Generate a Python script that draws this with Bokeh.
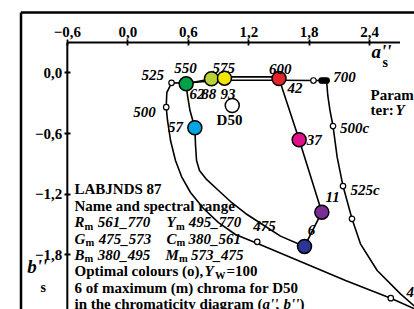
from bokeh.plotting import figure
from bokeh.models import Range1d, LinearAxis, FixedTicker, CustomJSTickFormatter
from bokeh.core.properties import value
from bokeh.embed import file_html
from bokeh.resources import INLINE

FONT = value("Liberation Serif")

# ---------------- data ----------------
a_ticks = [-0.6, 0.0, 0.6, 1.2, 1.8, 2.4]
b_ticks = [0.0, -0.6, -1.2, -1.8]

# optimal colour boundary (outer curve), (a''s, b''s)
opt_a = [2.904, 2.609, 2.160, 1.712, 1.287, 1.068, 0.900, 0.751, 0.622, 0.533, 0.473,
         0.424, 0.394, 0.381, 0.387, 0.434, 0.579, 0.830, 0.959, 1.500, 1.842, 1.972,
         1.984, 2.006, 2.036, 2.077, 2.135, 2.224, 2.308, 2.474, 2.705, 2.904]
opt_b = [-2.359, -2.227, -2.052, -1.864, -1.687, -1.598, -1.480, -1.341, -1.183, -1.025, -0.866,
         -0.669, -0.471, -0.340, -0.195, -0.099, -0.101, -0.081, -0.074, -0.074, -0.076, -0.076,
         -0.224, -0.373, -0.526, -0.834, -1.119, -1.443, -1.690, -1.954, -2.184, -2.359]

# spectral marks on the optimal colour boundary
spec_a = [0.434, 0.381, 1.284, 2.609, 1.842, 1.923, 1.947, 1.972, 2.036, 2.135, 2.224]
spec_b = [-0.099, -0.340, -1.670, -2.227, -0.076, -0.076, -0.076, -0.076, -0.526, -1.119, -1.443]
spec_lab = ["525", "500", "475", "450", "", "", "", "700", "500c", "525c", ""]
spec_fill = ["white", "white", "white", "white", "white", "black", "black", "black",
             "white", "white", "white"]
spec_dx = [-18.7, -21.7, 7.3, 27, 0, 0, 0, 18, 21.5, 22, 0]
spec_dy = [-8.3, 4.3, -15.3, -6, 0, 0, 0, -3, 2, 3.5, 0]

# maximum chroma colours (m)
mc_curve_a = [0.579, 0.592, 0.617, 0.665, 0.672, 0.682, 0.711, 0.781, 0.900, 1.019, 1.168,
              1.336, 1.515, 1.753, 1.925, 1.700, 1.500, 1.500, 0.959, 0.830, 0.579]
mc_curve_b = [-0.109, -0.224, -0.373, -0.543, -0.718, -0.867, -0.965, -1.054, -1.163, -1.272,
              -1.390, -1.499, -1.614, -1.716, -1.377, -0.662, -0.056, -0.040, -0.040, -0.059,
              -0.109]
mc_a = [0.579, 0.830, 0.959, 1.500, 1.700, 1.925, 1.753, 0.665]
mc_b = [-0.109, -0.059, -0.053, -0.056, -0.662, -1.377, -1.716, -0.543]
mc_Y = ["62", "88", "93", "42", "37", "11", "6", "57"]
mc_color = ["#00a04b", "#b8d335", "#f3e500", "#e4232b", "#e0118b", "#7b2d96", "#2b3594", "#00a6e4"]
mc_Ydx = [10.8, -2.7, 3.5, 16, 15, 10.7, 7, -19.3]
mc_Ydy = [10, 15, 15.6, 10, 0.7, -15, -16, -0.6]
mc_wave = ["550", "", "575", "600", "", "", "", ""]
mc_wdx = [-0.7, 0, -0.7, 1.2, 0, 0, 0, 0]
mc_wdy = [-16, 0, -10.4, -9.7, 0, 0, 0, 0]

d50_a = [1.036]
d50_b = [-0.323]

# ---------------- figure ----------------
A0, A1 = -1.2629, 2.8442
B0, B1 = -2.3390, 0.7144
AX_A0, AX_A1, AX_B = -0.6, 2.7, 0.3
FR_A, FR_B = -1.0595, 0.596

p = figure(width=414, height=309, x_range=Range1d(A0, A1), y_range=Range1d(B0, B1),
           output_backend="svg", toolbar_location=None, x_axis_location=None,
           y_axis_location=None, min_border=0, title=None)
p.outline_line_color = None
p.grid.grid_line_color = None
p.background_fill_color = "white"
p.border_fill_color = "white"

fmt = CustomJSTickFormatter(code="return (tick < -1e-9 ? '\u2212' : '') + Math.abs(tick).toFixed(1).replace('.', ',');")

def style_axis(ax):
    ax.axis_line_color = None
    ax.major_tick_in = 3
    ax.major_tick_out = 3
    ax.major_tick_line_width = 1.8
    ax.major_tick_line_color = "black"
    ax.minor_tick_line_color = None
    ax.major_label_text_font = "Liberation Serif"
    ax.major_label_text_font_style = "bold"
    ax.major_label_text_font_size = "15px"
    ax.major_label_text_color = "black"
    ax.major_label_standoff = 2

xax = LinearAxis(fixed_location=AX_B, ticker=FixedTicker(ticks=a_ticks), formatter=fmt)
style_axis(xax)
p.add_layout(xax, "above")
yax = LinearAxis(fixed_location=AX_A0, ticker=FixedTicker(ticks=b_ticks), formatter=fmt)
style_axis(yax)
p.add_layout(yax, "left")

# frame and axis lines
p.segment(x0=[FR_A, FR_A], y0=[FR_B, FR_B], x1=[A1 + 1, FR_A], y1=[FR_B, B0 - 1],
          line_color="black", line_width=2.5)
p.segment(x0=[AX_A0, AX_A0], y0=[AX_B, AX_B], x1=[AX_A1, AX_A0], y1=[AX_B, B0 - 1],
          line_color="black", line_width=2)

# curves
p.line(opt_a, opt_b, line_color="black", line_width=1.6)
p.line(mc_curve_a, mc_curve_b, line_color="black", line_width=1.6)

# markers
p.scatter(spec_a, spec_b, size=5.5, fill_color=spec_fill, line_color="black", line_width=1.2)
p.scatter(mc_a, mc_b, size=14, fill_color=mc_color, line_color="black", line_width=1.5)
p.scatter(d50_a, d50_b, size=14, fill_color="white", line_color="black", line_width=1.5)

def txt(x, y, t, dx=0, dy=0, style="bold italic", size="15px", align="center"):
    n = len(t)
    p.text(x=x, y=y, text=t, x_offset=dx if isinstance(dx, list) else [dx] * n,
           y_offset=dy if isinstance(dy, list) else [dy] * n,
           text_font=FONT, text_font_style=style, text_font_size=size,
           text_align=align, text_baseline="middle", text_color="black")

txt(spec_a, spec_b, spec_lab, spec_dx, spec_dy)
txt(mc_a, mc_b, mc_Y, mc_Ydx, mc_Ydy)
txt(mc_a, mc_b, mc_wave, mc_wdx, mc_wdy)
txt(d50_a, d50_b, ["D50"], [-2.7], [15], style="bold")

# axis titles
txt([2.418], [0.210], ["a''"], style="bold italic", size="19px", align="left")
txt([2.527], [0.097], ["s"], style="bold", size="14px", align="left")
txt([-0.998], [-1.914], ["b''"], style="bold italic", size="19px", align="left")
txt([-0.866], [-2.124], ["s"], style="bold", size="14px", align="left")

# parameter note
txt([2.408], [-0.224], ["Parame-"], style="bold", align="left")
txt([2.408], [-0.363], ["ter: "], style="bold", align="left")
txt([2.408], [-0.363], ["Y"], dx=[25], style="bold italic", align="left")

# legend block
leg_a = -0.529
row_b = [-1.8 + (4 - i) * 0.162 for i in range(8)]
pieces = [
    (0, 0, "LABJNDS 87", "bold", "15px", 0),
    (1, 0, "Name and spectral range", "bold", "15px", 0),
    (2, 0, "R", "bold italic", "15px", 0), (2, 10, "m", "bold", "10.5px", 4),
    (2, 23.3, "561_770", "bold italic", "15px", 0),
    (2, 92, "Y", "bold italic", "15px", 0), (2, 101.5, "m", "bold", "10.5px", 4),
    (2, 114.3, "495_770", "bold italic", "15px", 0),
    (3, 0, "G", "bold italic", "15px", 0), (3, 11, "m", "bold", "10.5px", 4),
    (3, 24.3, "475_573", "bold italic", "15px", 0),
    (3, 92, "C", "bold italic", "15px", 0), (3, 102, "m", "bold", "10.5px", 4),
    (3, 114, "380_561", "bold italic", "15px", 0),
    (4, 0, "B", "bold italic", "15px", 0), (4, 10, "m", "bold", "10.5px", 4),
    (4, 23.3, "380_495", "bold italic", "15px", 0),
    (4, 91, "M", "bold italic", "15px", 0), (4, 104.5, "m", "bold", "10.5px", 4),
    (4, 116.5, "573_475", "bold italic", "15px", 0),
    (5, 0, "Optimal colours (o),", "bold", "15px", 0),
    (5, 130, "Y", "bold italic", "15px", 0), (5, 140.5, "W", "bold", "10.5px", 4),
    (5, 152, "=100", "bold", "15px", 0),
    (6, 0, "6 of maximum (m) chroma for D50", "bold", "15px", 0),
    (7, 0, "in the chromaticity diagram (", "bold", "15px", 0),
    (7, 188, "a''", "bold italic", "15px", 0),
    (7, 201, ",", "bold", "15px", 0),
    (7, 209, "b''", "bold italic", "15px", 0),
    (7, 225, ")", "bold", "15px", 0),
]
for row, dx, t, st, sz, dy in pieces:
    txt([leg_a], [row_b[row]], [t], dx=[dx], dy=[dy], style=st, size=sz, align="left")

open("out.html", "w").write(file_html(p, INLINE))
